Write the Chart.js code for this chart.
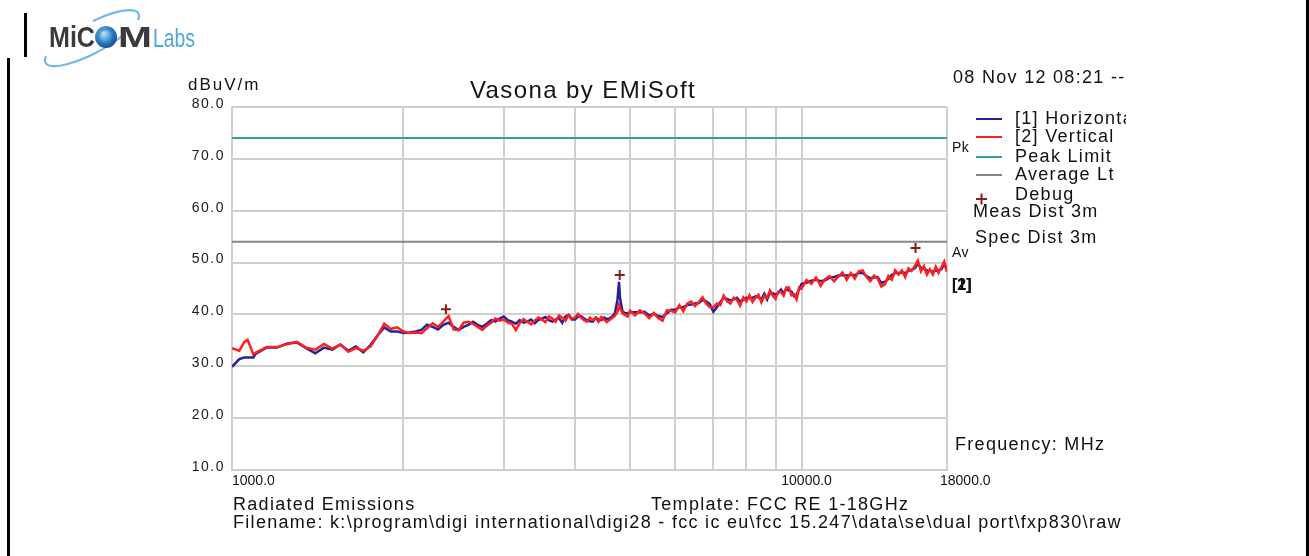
<!DOCTYPE html>
<html>
<head>
<meta charset="utf-8">
<title>Vasona by EMiSoft</title>
<script src="https://cdn.jsdelivr.net/npm/chart.js@4.4.1/dist/chart.umd.min.js"></script>
<style>
  html, body { margin: 0; padding: 0; background: #fff; }
  #page { position: relative; width: 1309px; height: 556px; overflow: hidden; background: #fff; }
  #emChart { position: absolute; left: 0; top: 0; }
  #logo { position: absolute; left: 0; top: 0; }
  .bar { position: absolute; background: #000; }
</style>
</head>
<body>
<div id="page">
  <canvas id="emChart" width="1309" height="556"></canvas>

  <svg id="logo" width="210" height="80">
    <defs>
      <radialGradient id="globe" cx="40%" cy="35%" r="65%">
        <stop offset="0%" stop-color="#bfe3fa"/>
        <stop offset="55%" stop-color="#3d8fd0"/>
        <stop offset="100%" stop-color="#17508f"/>
      </radialGradient>
    </defs>
    <path d="M 121 37 A 52 15 -28 0 1 46 56" stroke="#74b8e6" stroke-width="2.2" fill="none"/>
    <path d="M 93 21 A 52 15 -28 0 1 138 20" stroke="#74b8e6" stroke-width="2.2" fill="none"/>
    <circle cx="106" cy="37" r="11" fill="url(#globe)"/>
    <text x="49" y="47" font-family="Liberation Sans, Arial, sans-serif" font-weight="bold" font-size="29" fill="#3a3a3c" textLength="46" lengthAdjust="spacingAndGlyphs">MiC</text>
    <text x="95" y="47" font-family="Liberation Sans, Arial, sans-serif" font-weight="bold" font-size="29" fill="#1e5f9e" fill-opacity="0.35" textLength="22" lengthAdjust="spacingAndGlyphs">O</text>
    <text x="118" y="47" font-family="Liberation Sans, Arial, sans-serif" font-weight="bold" font-size="29" fill="#3a3a3c" textLength="34" lengthAdjust="spacingAndGlyphs">M</text>
    <text x="153" y="47" font-family="Liberation Sans, Arial, sans-serif" font-size="25" fill="#4ea6de" textLength="42" lengthAdjust="spacingAndGlyphs">Labs</text>
  </svg>

  <div class="bar" style="left:24px; top:13px; width:3px; height:44px;"></div>
  <div class="bar" style="left:7px; top:58px; width:3px; height:498px;"></div>
  <div class="bar" style="left:1306px; top:0; width:3px; height:556px;"></div>
</div>

<script>
// ########################
// ###   Sweep data     ###
// ########################

// Frequency points (MHz)
const freqMHz = [
  1000, 1030, 1050, 1065, 1090, 1100, 1150, 1200, 1250, 1300, 1350, 1400,
  1450, 1500, 1550, 1600, 1650, 1700, 1750, 1800, 1850, 1900, 1950,
  2000, 2050, 2100, 2150, 2200, 2250, 2300, 2350, 2400, 2450, 2500, 2550,
  2600, 2650, 2700, 2750, 2800, 2850, 2900, 2950,
  3000, 3050, 3100, 3150, 3200, 3250, 3300, 3350, 3400, 3450, 3500, 3550,
  3600, 3650, 3700, 3750, 3800, 3850, 3900, 3950, 4000, 4050, 4100, 4150,
  4200, 4250, 4300, 4350, 4400, 4450, 4500, 4550, 4600, 4650, 4700,
  4750, 4780, 4800, 4850, 4900, 4950,
  5000, 5100, 5200, 5300, 5400, 5500, 5600, 5700, 5800, 5900,
  6000, 6100, 6200, 6300, 6400, 6500, 6600, 6700, 6800, 6900,
  7000, 7100, 7200, 7300, 7400, 7500, 7600, 7700, 7800, 7900,
  8000, 8100, 8200, 8300, 8400, 8500, 8600, 8700, 8800, 8900,
  9000, 9100, 9200, 9300, 9400, 9500, 9600, 9700, 9800, 9900,
  10000, 10200, 10400, 10600, 10800, 11000, 11200, 11400, 11600, 11800,
  12000, 12200, 12400, 12600, 12800, 13000, 13200, 13400, 13600, 13800,
  14000, 14200, 14400, 14600, 14800, 15000, 15200, 15400, 15600, 15800,
  16000, 16200, 16400, 16600, 16800, 17000, 17200, 17400, 17600, 17800,
  18000
];

// [1] Horizontal (dBuV/m)
const horizontal = [
  29.9, 31.4, 31.7, 31.7, 31.7, 32.4, 33.6, 33.6, 34.4, 34.6, 33.5, 32.5,
  33.6, 33.2, 34.2, 33.0, 33.8, 32.7, 34.1, 35.9, 37.5, 36.7, 36.7,
  36.4, 36.5, 36.7, 37.0, 38.0, 37.6, 37.1, 38.0, 38.4, 37.6, 37.0, 37.6,
  38.0, 38.6, 38.0, 37.6, 38.2, 38.9, 38.6, 39.2,
  39.6, 38.9, 38.6, 38.2, 38.9, 38.4, 38.6, 39.0, 38.3, 38.9, 39.2, 39.5,
  38.9, 38.6, 39.0, 39.3, 38.4, 39.6, 39.9, 39.0, 39.0, 39.6, 39.7, 39.2,
  38.9, 38.7, 38.6, 39.4, 39.0, 38.9, 39.4, 39.1, 39.2, 39.6, 40.2,
  42.8, 46.3, 43.1, 40.5, 40.3, 40.2,
  40.4, 40.4, 40.4, 40.5, 39.8, 40.1, 39.7, 39.5, 40.2, 40.9,
  40.9, 41.4, 41.4, 41.8, 41.9, 42.1, 42.2, 42.8, 42.5, 42.0,
  40.5, 41.4, 42.4, 43.2, 43.0, 42.7, 42.9, 43.2, 42.5, 42.8,
  43.2, 43.1, 43.2, 43.5, 43.3, 42.9, 44.0, 42.9, 44.2, 44.1,
  43.8, 44.1, 44.8, 44.0, 45.0, 44.6, 44.4, 43.5, 43.8, 44.9,
  45.9, 46.1, 46.5, 46.7, 46.4, 46.6, 47.1, 47.2, 47.5, 47.6,
  47.5, 47.6, 47.6, 48.0, 48.0, 47.4, 47.0, 47.1, 47.2, 46.1,
  46.3, 46.8, 47.6, 48.0, 48.0, 48.1, 48.0, 48.4, 48.6, 48.9,
  49.8, 49.0, 48.8, 48.5, 48.4, 48.3, 48.4, 48.5, 48.7, 49.7,
  48.6
];

// [2] Vertical (dBuV/m)
const vertical = [
  33.5, 33.0, 34.6, 35.1, 32.3, 32.6, 33.7, 33.7, 34.3, 34.7, 33.6, 33.2,
  34.3, 33.4, 34.2, 32.8, 33.5, 33.0, 33.8, 35.8, 38.2, 37.2, 37.5,
  36.7, 36.4, 36.5, 36.4, 37.3, 38.3, 37.6, 38.6, 39.7, 37.1, 37.0, 38.4,
  38.6, 38.2, 37.6, 37.0, 37.8, 38.4, 39.2, 38.8,
  39.0, 38.4, 38.2, 37.0, 38.3, 39.1, 38.6, 38.1, 38.8, 39.4, 39.0, 38.5,
  39.6, 39.2, 38.6, 39.8, 39.4, 38.8, 39.9, 39.2, 39.4, 40.1, 39.4, 38.9,
  38.6, 39.4, 38.9, 39.3, 38.6, 39.5, 39.0, 38.5, 38.9, 39.3, 39.7,
  40.5, 41.8, 41.2, 40.2, 39.9, 39.6,
  40.7, 39.8, 40.8, 40.2, 39.3, 40.3, 39.3, 38.8, 40.8, 40.7,
  40.4, 41.8, 40.6, 42.1, 42.5, 41.6, 42.4, 43.3, 42.1, 41.4,
  41.4, 42.1, 41.8, 43.6, 42.5, 42.1, 43.2, 42.8, 41.7, 43.3,
  42.5, 43.7, 42.4, 43.2, 43.8, 42.3, 43.6, 43.2, 44.6, 43.6,
  43.0, 44.4, 44.3, 43.6, 45.2, 45.2, 43.7, 43.9, 42.9, 45.2,
  45.0, 46.6, 45.9, 47.1, 45.5, 46.8, 47.4, 46.4, 47.3, 48.1,
  46.7, 48.0, 46.9, 48.3, 48.5, 47.2, 46.4, 47.5, 46.9, 45.4,
  45.8, 47.4, 46.7, 48.5, 47.7, 48.5, 47.2, 48.9, 48.4, 49.3,
  50.4, 48.3, 49.3, 47.7, 48.7, 47.7, 49.2, 48.0, 49.1, 50.2,
  48.2
];

// Limit lines
const limitFreq = [1000, 18000];
const peakLimit = [74.0, 74.0];
const averageLimit = [54.0, 54.0];

// Debug markers
const debugFreq = [2374, 4794, 15850];
const debugLevel = [41.0, 47.6, 52.8];

// Axes
const gridFreq = [1000, 2000, 3000, 4000, 5000, 6000, 7000, 8000, 9000, 10000, 18000];
const xLabelFreq = [1000, 10000, 18000];
const xLabelText = ['1000.0', '10000.0', '18000.0'];
const yTicks = [10, 20, 30, 40, 50, 60, 70, 80];

const legendText = ['[1] Horizontal', '[2] Vertical', 'Peak Limit', 'Average Lt', 'Debug'];

// ########################
// ###   Text overlay   ###
// ########################
const FONT = '"Liberation Sans", Arial, sans-serif';

function put(ctx, str, px, py, size, opt) {
  opt = opt || {};
  ctx.font = (opt.bold ? 'bold ' : '') + size + 'px ' + FONT;
  ctx.letterSpacing = (opt.ls || 0) + 'px';
  ctx.textAlign = opt.align || 'left';
  ctx.textBaseline = 'middle';
  ctx.fillStyle = opt.color || '#111';
  ctx.fillText(str, px, py);
}

const overlay = {
  id: 'emsoftOverlay',
  beforeDraw(chart) {
    const ctx = chart.ctx;
    ctx.save();
    ctx.fillStyle = '#fff';
    ctx.fillRect(0, 0, chart.width, chart.height);
    ctx.restore();
  },
  afterDraw(chart) {
    const ctx = chart.ctx;
    const xs = chart.scales.x, ys = chart.scales.y;
    const sets = chart.data.datasets;
    ctx.save();

    // title + unit
    put(ctx, 'Vasona by EMiSoft', 583, 91, 24, { align: 'center', ls: 1.4, color: '#141414' });
    put(ctx, 'dBuV/m', 188, 85, 17, { ls: 2 });

    // y tick labels
    yTicks.forEach(v => {
      put(ctx, v.toFixed(1), 225, ys.getPixelForValue(v) - 3, 14, { align: 'right', ls: 1.5, color: '#1a1a1a' });
    });

    // x tick labels (first starts at the axis, last is pushed inside)
    xLabelFreq.forEach((f, i) => {
      const px = xs.getPixelForValue(f);
      if (i === 0) put(ctx, xLabelText[i], px, 481, 14);
      else if (i === xLabelFreq.length - 1) put(ctx, xLabelText[i], px - 7, 481, 14);
      else put(ctx, xLabelText[i], px + 5, 481, 14, { align: 'center' });
    });

    // everything right / below is clipped at the print margin
    ctx.beginPath();
    ctx.rect(0, 0, 1126, 556);
    ctx.clip();

    put(ctx, '08 Nov 12 08:21 --', 953, 78, 18, { ls: 1.3 });

    // legend
    const rowY = [119, 137, 157, 175, 195];
    const legendSets = [sets[1], sets[0], sets[2], sets[3]];
    legendSets.forEach((ds, i) => {
      ctx.strokeStyle = ds.borderColor;
      ctx.lineWidth = 2;
      ctx.beginPath();
      ctx.moveTo(976, rowY[i]);
      ctx.lineTo(1002, rowY[i]);
      ctx.stroke();
    });
    ctx.strokeStyle = sets[4].borderColor;
    ctx.lineWidth = 2;
    ctx.beginPath();
    ctx.moveTo(976, 199); ctx.lineTo(987, 199);
    ctx.moveTo(981.5, 193.5); ctx.lineTo(981.5, 204.5);
    ctx.stroke();
    legendText.forEach((t, i) => put(ctx, t, 1015, rowY[i], 18, { ls: 1.3 }));

    put(ctx, 'Meas Dist 3m', 973, 212, 18, { ls: 1.3 });
    put(ctx, 'Spec Dist 3m', 975, 238, 18, { ls: 1.3 });

    // limit / trace tags at the right of the plot
    put(ctx, 'Pk', 952, 148, 14, { ls: 0.5 });
    put(ctx, 'Av', 952, 253, 14, { ls: 0.5 });
    put(ctx, '[1]', 952, 286, 16, { bold: true });
    put(ctx, '[2]', 952, 286, 16, { bold: true });

    put(ctx, 'Frequency: MHz', 955, 445, 18, { ls: 1.3 });

    // footer
    put(ctx, 'Radiated Emissions', 233, 505, 18, { ls: 1.3 });
    put(ctx, 'Template: FCC RE 1-18GHz', 651, 505, 18, { ls: 1.3 });
    put(ctx, 'Filename: k:\\program\\digi international\\digi28 - fcc ic eu\\fcc 15.247\\data\\se\\dual port\\fxp830\\raw', 233, 523, 18, { ls: 1.3 });

    ctx.restore();
  }
};

// ########################
// ###   EMC chart      ###
// ########################
const gridColor = '#cfcfcf';

// Setup
const data = {
  datasets: [
    {
      label: '[2] Vertical',
      data: freqMHz.map((f, i) => ({ x: f, y: vertical[i] })),
      borderColor: '#ff1f1f',
      borderWidth: 2.5,
      pointRadius: 0,
      order: 1,
    },
    {
      label: '[1] Horizontal',
      data: freqMHz.map((f, i) => ({ x: f, y: horizontal[i] })),
      borderColor: '#22229a',
      borderWidth: 2.5,
      pointRadius: 0,
      order: 2,
    },
    {
      label: 'Peak Limit',
      data: limitFreq.map((f, i) => ({ x: f, y: peakLimit[i] })),
      borderColor: '#35a19b',
      borderWidth: 2,
      pointRadius: 0,
      order: 3,
    },
    {
      label: 'Average Lt',
      data: limitFreq.map((f, i) => ({ x: f, y: averageLimit[i] })),
      borderColor: '#858585',
      borderWidth: 2,
      pointRadius: 0,
      order: 3,
    },
    {
      label: 'Debug',
      data: debugFreq.map((f, i) => ({ x: f, y: debugLevel[i] })),
      showLine: false,
      pointStyle: 'cross',
      pointRadius: 5,
      borderColor: '#8e1b1b',
      borderWidth: 2,
      order: 0,
    },
  ]
};
// end Setup

// Config
const config = {
  type: 'line',
  data,
  options: {
    responsive: false,
    animation: false,
    devicePixelRatio: 1,
    layout: { padding: { left: 0, right: 362, top: 107, bottom: 0 } },
    plugins: {
      legend: { display: false },
      title: { display: false },
      tooltip: { enabled: false },
    },
    scales: {
      x: {
        type: 'logarithmic',
        min: 1000,
        max: 18000,
        afterBuildTicks: s => { s.ticks = gridFreq.map(v => ({ value: v })); },
        afterFit: s => { s.height = 86; },
        ticks: { display: false },
        grid: { color: gridColor, lineWidth: 2, drawTicks: false },
        border: { display: true, color: gridColor, width: 2 },
      },
      y: {
        type: 'linear',
        min: 10,
        max: 80,
        afterBuildTicks: s => { s.ticks = yTicks.map(v => ({ value: v })); },
        afterFit: s => { s.width = 232; },
        ticks: { display: false },
        grid: { color: gridColor, lineWidth: 2, drawTicks: false },
        border: { display: true, color: gridColor, width: 2 },
      }
    }
  },
  plugins: [overlay]
};
// end Config

// Render
const emChart = new Chart(document.getElementById('emChart'), config);
</script>
</body>
</html>
